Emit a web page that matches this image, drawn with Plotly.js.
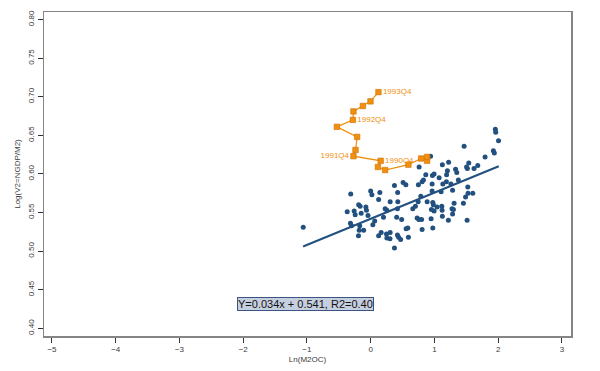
<!DOCTYPE html>
<html>
<head>
<meta charset="utf-8">
<script src="https://cdn.plot.ly/plotly-3.0.1.min.js"></script>
<style>html,body{margin:0;padding:0;background:#fff;}#chart{width:600px;height:371px;}</style>
</head>
<body>
<div id="chart"></div>
<script>
// Blue scatter: Ln(M2OC) vs Log(V2=NGDP/M2)
const scatterX = [-1.058,-0.313,-0.368,-0.259,-0.243,-0.188,-0.165,-0.149,-0.075,-0.066,
  -0.317,-0.301,-0.172,-0.180,-0.110,-0.191,0.000,0.019,0.144,0.125,
  -0.042,0.063,0.034,0.165,0.125,0.248,0.254,0.303,0.306,0.373,
  0.423,0.509,0.552,0.306,0.426,0.227,0.254,0.201,0.420,0.408,
  0.486,0.420,0.439,0.470,0.373,0.556,0.583,0.592,0.702,0.661,
  0.729,0.755,0.799,0.807,0.745,0.787,0.749,0.807,0.828,0.865,
  0.760,0.969,0.964,0.964,0.886,0.975,0.984,0.953,0.995,0.948,
  0.975,0.940,1.116,1.121,1.074,1.125,1.204,1.191,1.223,1.132,
  1.105,1.188,1.259,1.285,1.332,1.351,1.376,1.309,1.277,1.298,
  1.285,1.219,1.455,1.489,1.528,1.602,1.524,1.513,1.466,1.539,
  1.505,1.517,1.622,1.680,1.795,1.925,1.940,2.006,1.956,1.962,
  1.125,1.042,0.995];
const scatterY = [0.531,0.574,0.551,0.552,0.547,0.560,0.558,0.549,0.557,0.553,
  0.536,0.533,0.533,0.527,0.527,0.520,0.578,0.573,0.576,0.567,
  0.546,0.539,0.534,0.524,0.520,0.522,0.517,0.516,0.524,0.585,
  0.576,0.589,0.586,0.564,0.564,0.555,0.553,0.544,0.555,0.544,
  0.541,0.521,0.518,0.515,0.504,0.529,0.530,0.518,0.558,0.555,
  0.543,0.541,0.541,0.528,0.564,0.571,0.586,0.590,0.592,0.599,
  0.609,0.598,0.587,0.578,0.564,0.563,0.560,0.554,0.552,0.542,
  0.530,0.623,0.558,0.553,0.595,0.612,0.604,0.599,0.615,0.587,
  0.577,0.590,0.587,0.579,0.606,0.602,0.592,0.562,0.555,0.554,
  0.548,0.540,0.562,0.570,0.575,0.575,0.583,0.540,0.636,0.614,
  0.609,0.607,0.607,0.611,0.622,0.630,0.627,0.643,0.658,0.654,
  0.545,0.557,0.600];

// Fitted line endpoints
const fitX = [-1.06, 2.01];
const fitY = [0.506, 0.610];

// Orange path (recent quarters)
const pathX = [0.886,0.886,0.792,0.592,0.227,0.114,0.157,-0.270,-0.238,-0.212,-0.530,-0.279,-0.270,-0.122,-0.003,0.122];
const pathY = [0.617,0.622,0.620,0.612,0.605,0.609,0.617,0.623,0.631,0.648,0.661,0.670,0.681,0.688,0.694,0.706];
const pathLabels = ["","","","","","","1990Q4","1991Q4","","","","1992Q4","","","","1993Q4"];

const xTicks = [-5,-4,-3,-2,-1,0,1,2,3];
const yTicks = [0.40,0.45,0.50,0.55,0.60,0.65,0.70,0.75,0.80];
const yTickText = ["0.40","0.45","0.50","0.55","0.60","0.65","0.70","0.75","0.80"];

const navy = '#22507f';
const orange = '#f0900e';
const fontFam = '"Liberation Sans", Arial, Helvetica, sans-serif';

const labelPos = pathLabels.map(t => t === '1991Q4' ? 'middle left' : 'middle right');

const traces = [
  {x: scatterX, y: scatterY, type: 'scatter', mode: 'markers',
   marker: {symbol: 'circle', size: 5, color: navy}, hoverinfo: 'skip'},
  {x: fitX, y: fitY, type: 'scatter', mode: 'lines',
   line: {color: navy, width: 2}, hoverinfo: 'skip'},
  {x: pathX, y: pathY, type: 'scatter', mode: 'lines+markers+text',
   text: pathLabels, textposition: labelPos,
   textfont: {family: fontFam, size: 8, color: orange},
   line: {color: orange, width: 1.2},
   marker: {symbol: 'square', size: 5.5, color: orange, line: {color: '#d07000', width: 0.6}},
   hoverinfo: 'skip'}
];

const layout = {
  width: 600, height: 371,
  margin: {l: 44, r: 29, t: 12, b: 35},
  paper_bgcolor: '#ffffff', plot_bgcolor: '#ffffff',
  showlegend: false,
  font: {family: fontFam, size: 8, color: '#3a3a3a'},
  xaxis: {
    range: [-5.125, 3.143], tickvals: xTicks,
    showgrid: false, zeroline: false,
    ticks: 'outside', ticklen: 5, tickcolor: '#333', tickwidth: 1,
    showline: true, mirror: true, linecolor: '#858585', linewidth: 1.5,
    tickfont: {size: 8, color: '#3a3a3a'},
    title: {text: 'Ln(M2OC)', font: {size: 8, color: '#3a3a3a'}, standoff: 3}
  },
  yaxis: {
    range: [0.390, 0.8098], tickvals: yTicks, ticktext: yTickText,
    showgrid: false, zeroline: false, tickangle: -90,
    ticks: 'outside', ticklen: 5, tickcolor: '#333', tickwidth: 1,
    showline: true, mirror: true, linecolor: '#858585', linewidth: 1.5,
    tickfont: {size: 8, color: '#3a3a3a'},
    title: {text: 'Log(V2=NGDP/M2)', font: {size: 8, color: '#3a3a3a'}, standoff: 5}
  },
  annotations: [{
    x: -1.03, y: 0.432, xref: 'x', yref: 'y',
    text: 'Y=0.034x + 0.541, R2=0.40', showarrow: false,
    font: {family: fontFam, size: 11, color: '#111'},
    bgcolor: '#c6cfe0', bordercolor: '#3a5580', borderwidth: 1, borderpad: 0,
    xanchor: 'center', yanchor: 'middle'
  }]
};

Plotly.newPlot('chart', traces, layout, {staticPlot: true, displayModeBar: false});
</script>
</body>
</html>
